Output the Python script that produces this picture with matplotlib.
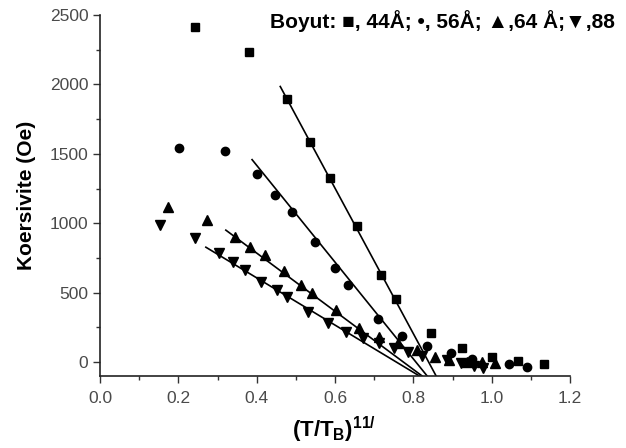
import matplotlib
matplotlib.use("Agg")
import matplotlib.pyplot as plt
from matplotlib.ticker import MultipleLocator

plt.rcParams['font.family'] = ['Liberation Sans', 'DejaVu Sans']
plt.rcParams['mathtext.fontset'] = 'custom'
plt.rcParams['mathtext.rm'] = 'Liberation Sans:bold'
plt.rcParams['mathtext.bf'] = 'Liberation Sans:bold'

# 44 A (squares)
sq_x = [0.242, 0.38, 0.477, 0.535, 0.586, 0.655, 0.718, 0.756, 0.845, 0.924, 1.0, 1.068, 1.134]
sq_y = [2410, 2237, 1892, 1583, 1324, 980, 626, 453, 208, 100, 36, 7, -14]

# 56 A (circles)
ci_x = [0.202, 0.318, 0.4, 0.446, 0.49, 0.548, 0.601, 0.633, 0.709, 0.772, 0.836, 0.897, 0.95, 1.045, 1.09]
ci_y = [1540, 1518, 1353, 1201, 1079, 863, 676, 554, 309, 187, 115, 65, 22, -14, -36]

# 64 A (up triangles)
tu_x = [0.174, 0.272, 0.344, 0.382, 0.42, 0.469, 0.514, 0.54, 0.603, 0.662, 0.713,
        0.762, 0.81, 0.856, 0.89, 0.938, 0.975, 1.008]
tu_y = [1115, 1022, 899, 827, 770, 655, 554, 496, 374, 245, 180,
        137, 86, 36, 14, 0, 0, -7]

# 88 A (down triangles)
td_x = [0.153, 0.242, 0.303, 0.339, 0.369, 0.412, 0.451, 0.476, 0.53, 0.582, 0.628,
        0.671, 0.713, 0.75, 0.786, 0.823, 0.887, 0.922, 0.955, 0.979]
td_y = [986, 892, 784, 719, 662, 576, 518, 468, 360, 280, 216,
        173, 137, 101, 72, 43, 14, -7, -29, -43]

# linear fits (start, end)
fit_sq = ([0.46, 0.858], [1985, -100])
fit_ci = ([0.388, 0.835], [1458, -100])
fit_tu = ([0.321, 0.822], [950, -100])
fit_td = ([0.27, 0.815], [827, -100])

fig = plt.figure(figsize=(6.26, 4.48), dpi=100)
ax = fig.add_axes([0.16, 0.161, 0.7505, 0.8055])

ms = 6
ax.plot(sq_x, sq_y, 's', color='black', ms=ms - 0.5)
ax.plot(ci_x, ci_y, 'o', color='black', ms=ms)
ax.plot(tu_x, tu_y, '^', color='black', ms=ms + 0.5)
ax.plot(td_x, td_y, 'v', color='black', ms=ms + 0.5)
for fx, fy in (fit_sq, fit_ci, fit_tu, fit_td):
    ax.plot(fx, fy, '-', color='black', lw=1.2)

ax.set_xlim(0, 1.2)
ax.set_ylim(-100, 2500)
ax.xaxis.set_major_locator(MultipleLocator(0.2))
ax.xaxis.set_minor_locator(MultipleLocator(0.1))
ax.yaxis.set_major_locator(MultipleLocator(500))
ax.yaxis.set_minor_locator(MultipleLocator(250))
ax.xaxis.set_major_formatter(plt.FuncFormatter(lambda v, p: f"{v:.1f}"))

for s in ('top', 'right'):
    ax.spines[s].set_visible(False)
for s in ('left', 'bottom'):
    ax.spines[s].set_linewidth(1.2)
    ax.spines[s].set_color('#222222')
ax.tick_params(which='major', direction='out', length=5, width=1, colors='#333333',
               labelsize=12.5, labelcolor='#4a4a4a')
ax.tick_params(which='major', axis='x', pad=6)
ax.tick_params(which='minor', direction='out', length=3, width=1, colors='#333333')

ax.set_ylabel("Koersivite (Oe)", fontsize=15, fontweight='bold', labelpad=10)
fig.text(0.466, 0.024, r"(T/T$_\mathrm{B}$)$^\mathrm{11/}$", fontsize=16,
         fontweight='bold', ha='left', va='baseline')

fig.text(0.431, 0.9375, "Boyut: \u25a0, 44\u00c5; \u2022, 56\u00c5; \u25b2,64 \u00c5;\u25bc,88",
         fontsize=15, fontweight='bold', ha='left', va='baseline')

fig.savefig("out.png", dpi=100)
